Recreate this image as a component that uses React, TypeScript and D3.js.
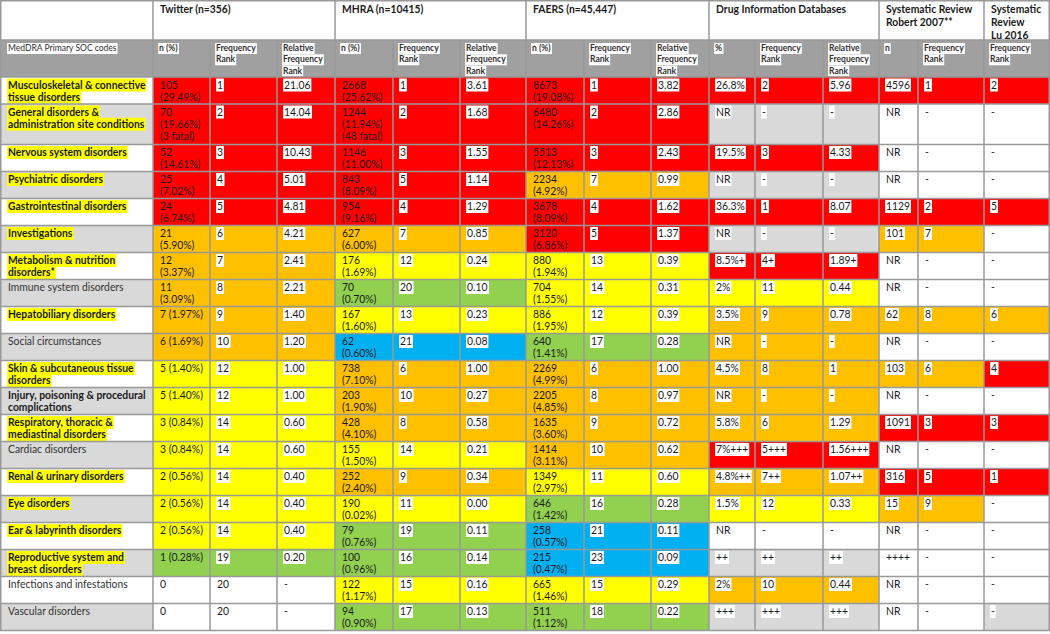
import React, { useEffect, useRef } from 'react';
import * as d3 from 'd3';

// MedDRA primary SOC rows
const socLabels = [
  'Musculoskeletal & connective\ntissue disorders',
  'General disorders &\nadministration site conditions',
  'Nervous system disorders',
  'Psychiatric disorders',
  'Gastrointestinal disorders',
  'Investigations',
  'Metabolism & nutrition\ndisorders*',
  'Immune system disorders',
  'Hepatobiliary disorders',
  'Social circumstances',
  'Skin & subcutaneous tissue\ndisorders',
  'Injury, poisoning & procedural\ncomplications',
  'Respiratory, thoracic &\nmediastinal disorders',
  'Cardiac disorders',
  'Renal & urinary disorders',
  'Eye disorders',
  'Ear & labyrinth disorders',
  'Reproductive system and\nbreast disorders',
  'Infections and infestations',
  'Vascular disorders',
];
const socHighlighted = [1, 1, 1, 1, 1, 1, 1, 0, 1, 0, 1, 0, 1, 0, 1, 1, 1, 1, 0, 0];
const socBold = [1, 1, 1, 1, 1, 1, 1, 0, 1, 0, 1, 1, 1, 0, 1, 1, 1, 1, 0, 0];

const twitterN = ['105\n(29.49%)', '70\n(19.66%)\n(3 fatal)', '52\n(14.61%)', '25\n(7.02%)', '24\n(6.74%)', '21\n(5.90%)', '12\n(3.37%)', '11\n(3.09%)', '7 (1.97%)', '6 (1.69%)', '5 (1.40%)', '5 (1.40%)', '3 (0.84%)', '3 (0.84%)', '2 (0.56%)', '2 (0.56%)', '2 (0.56%)', '1 (0.28%)', '0', '0'];
const twitterRank = ['1', '2', '3', '4', '5', '6', '7', '8', '9', '10', '12', '12', '14', '14', '14', '14', '14', '19', '20', '20'];
const twitterRel = ['21.06', '14.04', '10.43', '5.01', '4.81', '4.21', '2.41', '2.21', '1.40', '1.20', '1.00', '1.00', '0.60', '0.60', '0.40', '0.40', '0.40', '0.20', '-', '-'];

const mhraN = ['2668\n(25.62%)', '1244\n(11.94%)\n(48 fatal)', '1146\n(11.00%)', '843\n(8.09%)', '954\n(9.16%)', '627\n(6.00%)', '176\n(1.69%)', '70\n(0.70%)', '167\n(1.60%)', '62\n(0.60%)', '738\n(7.10%)', '203\n(1.90%)', '428\n(4.10%)', '155\n(1.50%)', '252\n(2.40%)', '190\n(0.02%)', '79\n(0.76%)', '100\n(0.96%)', '122\n(1.17%)', '94\n(0.90%)'];
const mhraRank = ['1', '2', '3', '5', '4', '7', '12', '20', '13', '21', '6', '10', '8', '14', '9', '11', '19', '16', '15', '17'];
const mhraRel = ['3.61', '1.68', '1.55', '1.14', '1.29', '0.85', '0.24', '0.10', '0.23', '0.08', '1.00', '0.27', '0.58', '0.21', '0.34', '0.00', '0.11', '0.14', '0.16', '0.13'];

const faersN = ['8673\n(19.08%)', '6480\n(14.26%)', '5513\n(12.13%)', '2234\n(4.92%)', '3678\n(8.09%)', '3120\n(6.86%)', '880\n(1.94%)', '704\n(1.55%)', '886\n(1.95%)', '640\n(1.41%)', '2269\n(4.99%)', '2205\n(4.85%)', '1635\n(3.60%)', '1414\n(3.11%)', '1349\n(2.97%)', '646\n(1.42%)', '258\n(0.57%)', '215\n(0.47%)', '665\n(1.46%)', '511\n(1.12%)'];
const faersRank = ['1', '2', '3', '7', '4', '5', '13', '14', '12', '17', '6', '8', '9', '10', '11', '16', '21', '23', '15', '18'];
const faersRel = ['3.82', '2.86', '2.43', '0.99', '1.62', '1.37', '0.39', '0.31', '0.39', '0.28', '1.00', '0.97', '0.72', '0.62', '0.60', '0.28', '0.11', '0.09', '0.29', '0.22'];

const didPct = ['26.8%', 'NR', '19.5%', 'NR', '36.3%', 'NR', '8.5%+', '2%', '3.5%', 'NR', '4.5%', 'NR', '5.8%', '7%+++', '4.8%++', '1.5%', 'NR', '++', '2%', '+++'];
const didRank = ['2', '-', '3', '-', '1', '-', '4+', '11', '9', '-', '8', '-', '6', '5+++', '7++', '12', '-', '++', '10', '+++'];
const didRel = ['5.96', '-', '4.33', '-', '8.07', '-', '1.89+', '0.44', '0.78', '-', '1', '-', '1.29', '1.56+++', '1.07++', '0.33', '-', '++', '0.44', '+++'];

const robertN = ['4596', 'NR', 'NR', 'NR', '1129', '101', 'NR', 'NR', '62', 'NR', '103', 'NR', '1091', 'NR', '316', '15', 'NR', '++++', 'NR', 'NR'];
const robertRank = ['1', '-', '-', '-', '2', '7', '-', '-', '8', '-', '6', '-', '3', '-', '5', '9', '-', '-', '-', '-'];
const luRank = ['2', '-', '-', '-', '5', '-', '-', '-', '6', '-', '4', '-', '3', '-', '1', '-', '-', '-', '-', '-'];

// colour tier of each source per row: R red, O orange, Y yellow, G green, B blue, N grey, W white
const twitterTier = 'RRRRROOOOOYYYYYYYGWW';
const mhraTier = 'RRRRROYGYBOOOYOYGGYG';
const faersTier = 'RRRORRYYYGOOOOYGBBYG';
const didTier = 'RNRNRNRYOOOOOROYWNON';
const robertTier = 'RWWWROWWOWOWRWROWWWW';
const luTier = 'RWWWRWWWOWRWRWRWWWWN';

const groupTitles = ['Twitter (n=356)', 'MHRA (n=10415)', 'FAERS (n=45,447)', 'Drug Information Databases', 'Systematic Review\nRobert 2007**', 'Systematic\nReview\nLu 2016'];
const groupSpans = [3, 3, 3, 3, 2, 1];
const subHeaders = ['n (%)', 'Frequency\nRank', 'Relative\nFrequency\nRank', 'n (%)', 'Frequency\nRank', 'Relative\nFrequency\nRank', 'n (%)', 'Frequency\nRank', 'Relative\nFrequency\nRank', '%', 'Frequency\nRank', 'Relative\nFrequency\nRank', 'n', 'Frequency\nRank', 'Frequency\nRank'];

const TIER_COLOR: Record<string, string> = {
  R: '#ff0000', O: '#ffc000', Y: '#ffff00', G: '#92d050', B: '#00b0f0', N: '#d9d9d9', W: '#ffffff',
};

const FONT = "Lato, 'Open Sans', sans-serif";
const SQUEEZE = 0.9; // Lato is wider than the Calibri of the source

const App = () => {
  const ref = useRef<SVGSVGElement>(null);

  useEffect(() => {
    const width = 1050;
    const height = 634;
    const colWidths = [153, 57, 67, 58, 58, 67, 66, 58, 67, 58, 46, 68, 56, 39, 66, 66];
    const colX = [0, ...d3.cumsum(colWidths)];
    const head1 = 40;
    const head2 = 37;
    const rowLineH = 13.5;
    const textLineH = 12.2;

    const columns = [
      { values: twitterN, tier: twitterTier, box: false },
      { values: twitterRank, tier: twitterTier, box: true },
      { values: twitterRel, tier: twitterTier, box: true },
      { values: mhraN, tier: mhraTier, box: false },
      { values: mhraRank, tier: mhraTier, box: true },
      { values: mhraRel, tier: mhraTier, box: true },
      { values: faersN, tier: faersTier, box: false },
      { values: faersRank, tier: faersTier, box: true },
      { values: faersRel, tier: faersTier, box: true },
      { values: didPct, tier: didTier, box: true },
      { values: didRank, tier: didTier, box: true },
      { values: didRel, tier: didTier, box: true },
      { values: robertN, tier: robertTier, box: true },
      { values: robertRank, tier: robertTier, box: true },
      { values: luRank, tier: luTier, box: true },
    ];

    // row heights from the number of text lines
    const rowLines = socLabels.map((lab, i) =>
      Math.max(2, lab.split('\n').length, ...columns.map(c => c.values[i].split('\n').length))
    );
    const rowY = [head1 + head2];
    rowLines.forEach(n => rowY.push(rowY[rowY.length - 1] + n * rowLineH));

    const svg = d3.select(ref.current);
    svg.selectAll('*').remove();
    svg.attr('width', width).attr('height', height);

    const drawLines = (
      g: any, text: string, x: number, y: number, lh: number,
      opt: { size: number; weight?: string; bg?: string; fill?: string }
    ) => {
      text.split('\n').forEach((ln, i) => {
        const lg = g.append('g')
          .attr('transform', `translate(${x},${y + i * lh}) scale(${SQUEEZE},1)`);
        const t = lg.append('text')
          .attr('font-family', FONT)
          .attr('font-size', opt.size)
          .attr('font-weight', opt.weight || 'normal')
          .attr('fill', opt.fill || '#1a1a1a')
          .text(ln);
        if (opt.bg) {
          const b = t.node().getBBox();
          lg.insert('rect', 'text')
            .attr('x', b.x - 1)
            .attr('y', -opt.size + 1.5)
            .attr('width', b.width + 2)
            .attr('height', opt.size + 1.5)
            .attr('fill', opt.bg);
        }
      });
    };

    const bg = svg.append('g');
    const fg = svg.append('g');

    bg.append('rect').attr('width', width).attr('height', height).attr('fill', '#fff');
    bg.append('rect').attr('x', 0).attr('y', head1).attr('width', width).attr('height', head2).attr('fill', '#a0a0a0');

    // cell backgrounds
    socLabels.forEach((_, i) => {
      const y = rowY[i];
      const h = rowY[i + 1] - y;
      bg.append('rect').attr('x', colX[0]).attr('y', y).attr('width', colWidths[0]).attr('height', h)
        .attr('fill', i % 2 === 1 ? '#d9d9d9' : '#ffffff');
      columns.forEach((c, j) => {
        bg.append('rect').attr('x', colX[j + 1]).attr('y', y).attr('width', colWidths[j + 1]).attr('height', h)
          .attr('fill', TIER_COLOR[c.tier[i]]);
      });
    });

    // group titles
    let ci = 1;
    const groupX: number[] = [];
    groupTitles.forEach((title, gi) => {
      groupX.push(colX[ci]);
      drawLines(fg, title, colX[ci] + 7, 12.5, 13, { size: 11.5, weight: 'bold' });
      ci += groupSpans[gi];
    });

    // sub headers
    drawLines(fg, 'MedDRA Primary SOC codes', 8, 51, 11.3, { size: 9.5, bg: '#fff', fill: '#333' });
    subHeaders.forEach((s, j) => {
      drawLines(fg, s, colX[j + 1] + 6, 51, 11.3, { size: 9.5, weight: 'bold', bg: '#fff', fill: '#333' });
    });

    // rows
    socLabels.forEach((lab, i) => {
      const y = rowY[i] + 11.5;
      drawLines(fg, lab, 8, y, textLineH, {
        size: 11.5,
        weight: socBold[i] ? 'bold' : 'normal',
        bg: socHighlighted[i] ? '#ffff00' : undefined,
        fill: socBold[i] ? '#1a1a1a' : '#333',
      });
      columns.forEach((c, j) => {
        drawLines(fg, c.values[i], colX[j + 1] + 7, y, textLineH, {
          size: 11.5,
          bg: c.box ? '#fff' : undefined,
        });
      });
    });

    // grid lines
    const grid = svg.append('g').attr('stroke', '#999').attr('stroke-width', 1.5);
    const bottom = rowY[rowY.length - 1];
    const hLines = [0.75, head1, head1 + head2, ...rowY.slice(1)];
    hLines.forEach(y => grid.append('line').attr('x1', 0).attr('x2', width).attr('y1', y).attr('y2', y));
    colX.forEach((x, k) => {
      const xx = Math.min(Math.max(x, 0.75), width - 0.75);
      const top = k === 0 || k === colX.length - 1 || groupX.includes(x) ? 0 : head1;
      grid.append('line').attr('x1', xx).attr('x2', xx).attr('y1', top).attr('y2', bottom);
    });
  }, []);

  return <svg ref={ref} style={{ position: 'absolute', left: 0, top: 0, display: 'block' }} />;
};

export default App;
